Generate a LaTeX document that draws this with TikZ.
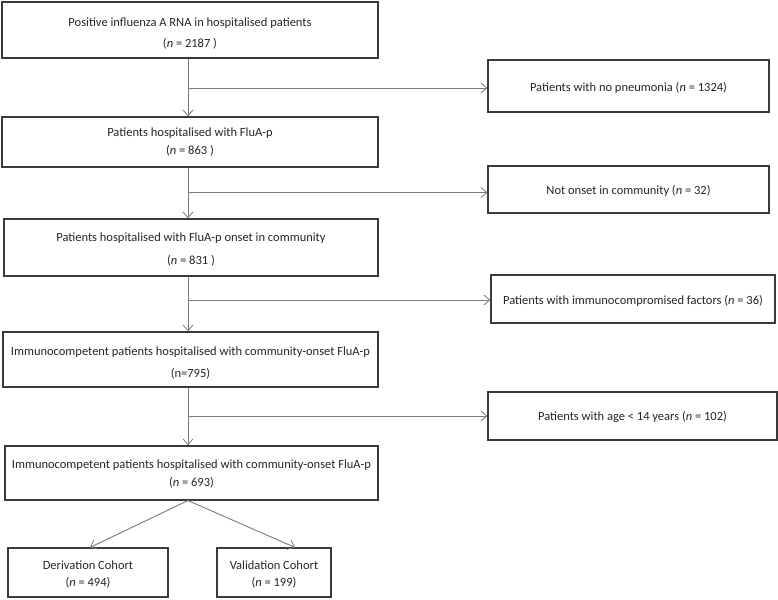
\documentclass[tikz,border=0pt]{standalone}
\usepackage{fontspec}
\setmainfont{Carlito}
\usetikzlibrary{arrows.meta}
\definecolor{boxline}{HTML}{3A3A3A}
\definecolor{arrline}{HTML}{7A7A7A}
\definecolor{txt}{HTML}{262626}
\begin{document}
\begin{tikzpicture}[x=1pt,y=-1pt,
  box/.style={draw=boxline,line width=1.1pt,inner sep=0pt},
  label/.style={align=center,inner sep=0pt,text=txt,font=\fontsize{12.5}{#1}\selectfont},
  label/.default=21,
  flow/.style={draw=arrline,line width=0.9pt,-{Straight Barb[length=6pt,width=10pt,line width=0.8pt]}}]
\useasboundingbox (0,0) rectangle (778,599);
\fill[white] (0,0) rectangle (778,599);

% main column boxes
\node[box,minimum width=376pt,minimum height=56pt] (b1) at (190,30) {};
\node[label=21] (b1t) at ([yshift=-4pt]b1.center) {Positive influenza A RNA in hospitalised patients\\(\textit{n} = 2187 )};
\node[box,minimum width=376pt,minimum height=50pt] (b2) at (190,142) {};
\node[label=18] (b2t) at ([yshift=0pt]b2.center) {Patients hospitalised with FluA-p\\(\textit{n} = 863 )};
\node[box,minimum width=374pt,minimum height=57pt] (b3) at (191,247.5) {};
\node[label=23] (b3t) at ([yshift=-2.5pt]b3.center) {Patients hospitalised with FluA-p onset in community\\(\textit{n} = 831 )};
\node[box,minimum width=375pt,minimum height=55pt] (b4) at (190.5,359.5) {};
\node[label=22] (b4t) at ([yshift=-3.5pt]b4.center) {Immunocompetent patients hospitalised with community-onset FluA-p\\(n=795)};
\node[box,minimum width=373pt,minimum height=54pt] (b5) at (191.5,473) {};
\node[label=18] (b5t) at ([yshift=-1pt]b5.center) {Immunocompetent patients hospitalised with community-onset FluA-p\\(\textit{n} = 693)};

% exclusion boxes
\node[box,minimum width=281pt,minimum height=52pt] (r1) at (628.5,86) {};
\node[label] (r1t) at ([yshift=-2pt]r1.center) {Patients with no pneumonia (\textit{n} = 1324)};
\node[box,minimum width=281pt,minimum height=47pt] (r2) at (628.5,189.5) {};
\node[label] (r2t) at ([yshift=-1pt]r2.center) {Not onset in community (\textit{n} = 32)};
\node[box,minimum width=284pt,minimum height=48pt] (r3) at (633,299) {};
\node[label] (r3t) at ([yshift=-2pt]r3.center) {Patients with immunocompromised factors (\textit{n} = 36)};
\node[box,minimum width=289pt,minimum height=48pt] (r4) at (632.5,416) {};
\node[label] (r4t) at ([yshift=-1pt]r4.center) {Patients with age < 14 years (\textit{n} = 102)};

% cohorts
\node[box,minimum width=160pt,minimum height=49pt] (d) at (88,572.5) {};
\node[label=17] (dt) at ([yshift=-2.5pt]d.center) {Derivation Cohort\\(\textit{n} = 494)};
\node[box,minimum width=114pt,minimum height=49pt] (v) at (274,572.5) {};
\node[label=17] (vtx) at ([yshift=-2.5pt]v.center) {Validation Cohort\\(\textit{n} = 199)};

% trunk 1
\coordinate (t1) at (188,88);
\draw[flow] (b1.south -| t1) -- (b2.north -| t1);
\draw[flow] (t1) -- (t1 -| r1.west);
% trunk 2
\coordinate (t2) at (188,192.5);
\draw[flow] (b2.south -| t2) -- (b3.north -| t2);
\draw[flow] (t2) -- (t2 -| r2.west);
% trunk 3
\coordinate (t3) at (188,300);
\draw[flow] (b3.south -| t3) -- (b4.north -| t3);
\draw[flow] (t3) -- (t3 -| r3.west);
% trunk 4
\coordinate (t4) at (188,416);
\draw[flow] (b4.south -| t4) -- (b5.north -| t4);
\draw[flow] (t4) -- (t4 -| r4.west);
% split
\coordinate (s) at (188,500);
\draw[flow] (b5.south -| s) -- ([xshift=2pt]d.north);
\draw[flow] (b5.south -| s) -- ([xshift=21pt]v.north);
\end{tikzpicture}
\end{document}
